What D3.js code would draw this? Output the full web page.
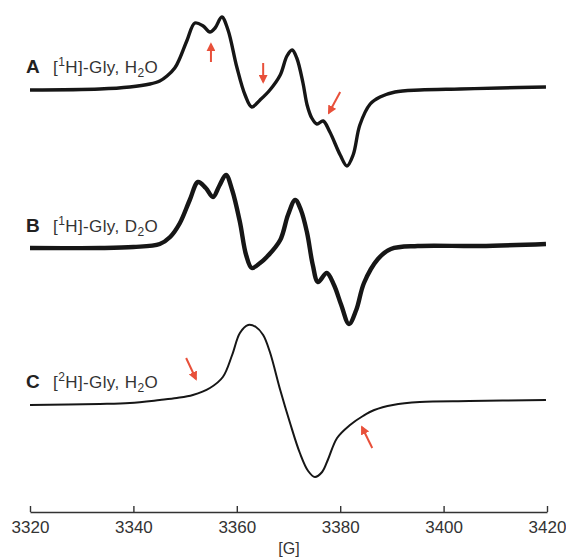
<!DOCTYPE html>
<html><head><meta charset="utf-8">
<script src="https://cdn.jsdelivr.net/npm/d3@7"></script>
<style>
html,body{margin:0;padding:0;background:#fff;}
svg{display:block;}
text{font-family:"Liberation Sans",Arial,sans-serif;}
</style></head>
<body>
<svg id="chart" width="566" height="559"></svg>
<script>
// ---- data (field in Gauss, signal in arbitrary units relative to baseline) ----
const fieldTicks = [3320, 3340, 3360, 3380, 3400, 3420];

const traceA_field = [3320,3333.5,3339.3,3343.2,3345.1,3346.5,3348.0,3349.0,3350.4,3351.9,3353.5,3354.8,3355.8,3357.1,3358.3,3360.0,3361.6,3362.9,3364.5,3366.4,3368.4,3369.7,3370.7,3371.6,3372.8,3373.6,3374.5,3375.5,3376.7,3378.0,3380.0,3381.3,3382.5,3383.8,3385.8,3387.7,3390.6,3395.4,3403.2,3410.9,3419.8];
const traceA_signal = [-1,0,2,5,8,13,21,31,49,66,63,57,61,72,59,22,-6,-18,-11,-1,14,33,39,31,6,-16,-29,-35,-32,-43,-66,-77,-66,-36,-15,-8,-3,-1,0,1,2];

const traceB_field = [3320,3333.5,3340.0,3345.1,3347.1,3349.0,3350.9,3352.5,3354.0,3355.4,3356.6,3357.9,3359.1,3360.6,3361.8,3362.9,3364.5,3365.8,3368.4,3369.9,3371.3,3372.4,3373.6,3374.7,3375.7,3377.4,3378.8,3380.2,3381.7,3383.1,3384.6,3387.3,3389.8,3395.0,3407.0,3419.8];
const traceB_signal = [-1,-1,0,3,10,24,47,65,59,50,61,72,57,25,-8,-21,-16,-10,7,32,47,37,14,-18,-35,-26,-38,-58,-77,-63,-36,-12,-2,1,1,3];

const traceC_field = [3320,3333.5,3339.3,3345.1,3348.4,3351.5,3354.8,3357.3,3359.1,3360.6,3362.2,3363.7,3365.1,3366.4,3368.4,3370.3,3372.2,3373.8,3375.1,3376.5,3377.6,3379.4,3381.9,3384.4,3386.6,3390.2,3395.4,3405.0,3419.8];
const traceC_signal = [-2,-1,0,3,5,8,15,26,48,70,78,76,68,51,13,-20,-50,-68,-74,-69,-57,-35,-22,-13,-7,-2,1,2,3];

const traceNames = ["A", "B", "C"];
const traceIso = ["1", "1", "2"];
const traceSolvent = ["H", "D", "H"];

// arrows: [trace, fromField, fromSignal, toField, toSignal]
const arrows = [
  ["A", 3355.0, 27, 3355.0, 45],
  ["A", 3365.1, 26, 3365.1, 7],
  ["A", 3380.0, -3, 3377.8, -24],
  ["C", 3350.2, 45, 3352.1, 24],
  ["C", 3386.2, -45, 3384.2, -24]
];

// ---- layout ----
const baseOffset = {A: 423, B: 265, C: 109};
const strokeW = {A: 3.4, B: 4.4, C: 2.0};

const svg = d3.select("#chart");
const x = d3.scaleLinear().domain([3320, 3420]).range([30, 547]);
const y = d3.scaleLinear().domain([0, 500]).range([512, 12]);

const traces = {
  A: traceA_field.map((f, i) => [f, traceA_signal[i]]),
  B: traceB_field.map((f, i) => [f, traceB_signal[i]]),
  C: traceC_field.map((f, i) => [f, traceC_signal[i]])
};

const line = key => d3.line()
  .x(d => x(d[0]))
  .y(d => y(d[1] + baseOffset[key]))
  .curve(d3.curveCatmullRom.alpha(0.5));

traceNames.forEach(k => {
  svg.append("path")
    .datum(traces[k])
    .attr("fill", "none")
    .attr("stroke", "#161616")
    .attr("stroke-width", strokeW[k])
    .attr("stroke-linejoin", "round")
    .attr("d", line(k));
});

// labels
const labelY = {A: 73, B: 232, C: 388};
traceNames.forEach((k, i) => {
  svg.append("text").attr("x", 26).attr("y", labelY[k])
    .attr("font-size", 19).attr("font-weight", "bold").attr("fill", "#222").text(k);
  const t = svg.append("text").attr("x", 53).attr("y", labelY[k])
    .attr("font-size", 17).attr("fill", "#333").attr("letter-spacing", 0.4);
  t.append("tspan").text("[");
  t.append("tspan").attr("font-size", 12).attr("dy", -7).text(traceIso[i]);
  t.append("tspan").attr("dy", 7).text("H]-Gly, " + traceSolvent[i]);
  t.append("tspan").attr("font-size", 12).attr("dy", 4).text("2");
  t.append("tspan").attr("dy", -4).text("O");
});

// arrows
const defs = svg.append("defs");
defs.append("marker").attr("id", "ah").attr("viewBox", "0 0 10 10")
  .attr("refX", 8).attr("refY", 5).attr("markerWidth", 4.5).attr("markerHeight", 4.5)
  .attr("orient", "auto")
  .append("path").attr("d", "M0,0 L10,5 L0,10 z").attr("fill", "#e8503a");

arrows.forEach(a => {
  const off = baseOffset[a[0]];
  svg.append("line")
    .attr("x1", x(a[1])).attr("y1", y(a[2] + off))
    .attr("x2", x(a[3])).attr("y2", y(a[4] + off))
    .attr("stroke", "#e8503a").attr("stroke-width", 2)
    .attr("marker-end", "url(#ah)");
});

// axis
const axis = d3.axisBottom(x).tickValues(fieldTicks).tickFormat(d3.format("d"))
  .tickSizeInner(-6).tickSizeOuter(0).tickPadding(9);
const g = svg.append("g").attr("transform", "translate(0,512)").call(axis);
g.select(".domain").attr("stroke", "#333").attr("stroke-width", 1.6);
g.selectAll(".tick line").attr("stroke", "#333").attr("stroke-width", 1.4);
g.selectAll(".tick text").attr("font-size", 17).attr("fill", "#333")
  .attr("font-family", "Liberation Sans, Arial, sans-serif");

svg.append("text").attr("x", 289).attr("y", 554).attr("text-anchor", "middle")
  .attr("font-size", 16).attr("fill", "#333").text("[G]");
</script>
</body></html>
